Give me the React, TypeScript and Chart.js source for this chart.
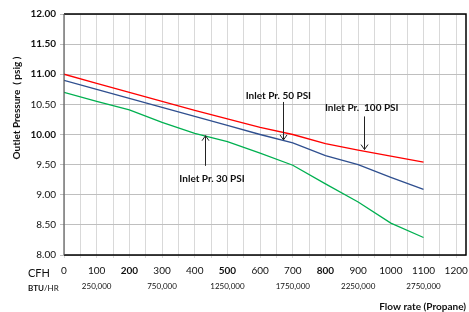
import React, { useEffect, useRef } from "react";
import { Chart, registerables } from "chart.js";

Chart.register(...registerables);

// ---- data ----
const cfh = [0, 100, 200, 300, 400, 500, 600, 700, 800, 900, 1000, 1100];
const inlet100 = [11.0, 10.85, 10.7, 10.55, 10.4, 10.26, 10.12, 10.0, 9.85, 9.74, 9.64, 9.54];
const inlet50 = [10.9, 10.75, 10.6, 10.45, 10.3, 10.15, 10.0, 9.86, 9.65, 9.5, 9.29, 9.09];
const inlet30 = [10.7, 10.55, 10.41, 10.2, 10.02, 9.88, 9.69, 9.49, 9.18, 8.88, 8.53, 8.29];

const cfhTickMax = 1200;
const cfhGridStep = 50;
const btuLabels = ["250,000", "750,000", "1250,000", "1750,000", "2250,000", "2750,000"];
const btuAtCfh = [100, 300, 500, 700, 900, 1100];
const boldCfhTicks = [200, 500, 800];
const boldYTicks = [12, 11.5, 11, 10];

const annotations = [
  { text: "Inlet Pr. 50 PSI", textX: 656, textY: 10.64, arrowX: 670, fromY: 10.54, toY: 9.91 },
  { text: "Inlet Pr.  100 PSI", textX: 911, textY: 10.45, arrowX: 917, fromY: 10.3, toY: 9.75 },
  { text: "Inlet Pr. 30 PSI", textX: 453, textY: 9.26, arrowX: 430, fromY: 9.48, toY: 9.98 },
];

const FONT = "Lato, 'Open Sans', sans-serif";

const decorPlugin = {
  id: "decor",
  afterDraw(chart: any) {
    const { ctx, chartArea, scales } = chart;
    const xs = scales.x;
    const ys = scales.y;
    ctx.save();
    // frame
    ctx.lineWidth = 1.5;
    ctx.strokeStyle = "#000";
    ctx.beginPath();
    ctx.moveTo(chartArea.left, chartArea.top);
    ctx.lineTo(chartArea.right, chartArea.top);
    ctx.lineTo(chartArea.right, chartArea.bottom);
    ctx.lineTo(chartArea.left, chartArea.bottom);
    ctx.stroke();
    ctx.strokeStyle = "#595959";
    ctx.lineWidth = 1.2;
    ctx.beginPath();
    ctx.moveTo(chartArea.left, chartArea.top);
    ctx.lineTo(chartArea.left, chartArea.bottom);
    ctx.stroke();

    // annotations
    ctx.fillStyle = "#111";
    ctx.strokeStyle = "#222";
    ctx.lineWidth = 1;
    ctx.font = `bold 10px ${FONT}`;
    ctx.textAlign = "center";
    ctx.textBaseline = "middle";
    for (const a of annotations) {
      ctx.fillText(a.text, xs.getPixelForValue(a.textX), ys.getPixelForValue(a.textY));
      const x = Math.round(xs.getPixelForValue(a.arrowX)) + 0.5;
      const y0 = ys.getPixelForValue(a.fromY);
      const y1 = ys.getPixelForValue(a.toY);
      const dir = y1 > y0 ? 1 : -1;
      ctx.beginPath();
      ctx.moveTo(x, y0);
      ctx.lineTo(x, y1);
      ctx.moveTo(x - 3.5, y1 - dir * 5);
      ctx.lineTo(x, y1);
      ctx.lineTo(x + 3.5, y1 - dir * 5);
      ctx.stroke();
    }

    // y axis title
    ctx.save();
    ctx.translate(17, chartArea.top + 94);
    ctx.rotate(-Math.PI / 2);
    ctx.font = `bold 10px ${FONT}`;
    ctx.fillStyle = "#111";
    ctx.textAlign = "center";
    ctx.textBaseline = "middle";
    ctx.fillText("Outlet Pressure  ( psig )", 0, 0);
    ctx.restore();

    // CFH & BTU/HR labels
    ctx.fillStyle = "#111";
    ctx.textAlign = "left";
    ctx.textBaseline = "middle";
    ctx.font = `11px ${FONT}`;
    ctx.fillText("CFH", 28, chartArea.bottom + 18);
    ctx.font = `bold 8px ${FONT}`;
    const bw = ctx.measureText("BTU").width;
    ctx.fillText("BTU", 28, chartArea.bottom + 33);
    ctx.font = `8px ${FONT}`;
    ctx.fillText("/HR", 28 + bw, chartArea.bottom + 33);

    ctx.textAlign = "center";
    ctx.font = `8px ${FONT}`;
    btuLabels.forEach((t, i) => {
      ctx.fillText(t, xs.getPixelForValue(btuAtCfh[i]), chartArea.bottom + 31);
    });

    ctx.textAlign = "right";
    ctx.font = `bold 10px ${FONT}`;
    ctx.fillText("Flow rate (Propane)", chartArea.right, chartArea.bottom + 52);
    ctx.restore();
  },
};

export default function App() {
  const ref = useRef<HTMLCanvasElement | null>(null);
  useEffect(() => {
    if (!ref.current) return;
    const mk = (d: number[]) => cfh.map((x, i) => ({ x, y: d[i] }));
    const chart = new Chart(ref.current, {
      type: "line",
      data: {
        datasets: [
          { label: "Inlet Pr. 100 PSI", data: mk(inlet100), borderColor: "#ff0000", borderWidth: 1.3, pointRadius: 0, tension: 0 },
          { label: "Inlet Pr. 50 PSI", data: mk(inlet50), borderColor: "#2f4f8f", borderWidth: 1.3, pointRadius: 0, tension: 0 },
          { label: "Inlet Pr. 30 PSI", data: mk(inlet30), borderColor: "#00b050", borderWidth: 1.3, pointRadius: 0, tension: 0 },
        ],
      },
      options: {
        animation: false,
        responsive: true,
        maintainAspectRatio: false,
        layout: { padding: { top: 14, right: 3, left: 0, bottom: 0 } },
        plugins: { legend: { display: false }, tooltip: { enabled: false }, title: { display: false } },
        scales: {
          x: {
            type: "linear",
            min: 0,
            max: 1230,
            afterBuildTicks: (s: any) => {
              const t: any[] = [];
              for (let v = 0; v <= cfhTickMax; v += cfhGridStep) t.push({ value: v });
              s.ticks = t;
            },
            afterFit: (s: any) => {
              s.height = 57;
              s.paddingLeft = 0;
              s.paddingRight = 0;
            },
            border: { display: false },
            grid: { color: "#d9d9d9", lineWidth: 1, tickLength: 3, drawTicks: true },
            ticks: {
              stepSize: 50,
              autoSkip: false,
              maxRotation: 0,
              padding: 7,
              color: "#111",
              font: (c: any) => ({
                family: FONT,
                size: 10,
                weight: c.tick && boldCfhTicks.includes(c.tick.value) ? "bold" : "normal",
              }),
              callback: (v: any) => (v % 100 === 0 ? String(v) : ""),
            },
          },
          y: {
            min: 8,
            max: 12,
            afterFit: (s: any) => {
              s.width = 64;
              s.paddingTop = 0;
              s.paddingBottom = 0;
            },
            border: { display: false },
            grid: { color: "#bfbfbf", lineWidth: 1, tickLength: 4 },
            ticks: {
              stepSize: 0.5,
              padding: 4,
              color: "#111",
              font: (c: any) => ({
                family: FONT,
                size: 10,
                weight: c.tick && boldYTicks.includes(c.tick.value) ? "bold" : "normal",
              }),
              callback: (v: any) => Number(v).toFixed(2),
            },
          },
        },
      },
      plugins: [decorPlugin],
    });
    return () => chart.destroy();
  }, []);
  return (
    <div style={{ position: "fixed", left: 0, top: 0, width: 469, height: 312, background: "#fff" }}>
      <canvas ref={ref} />
    </div>
  );
}
